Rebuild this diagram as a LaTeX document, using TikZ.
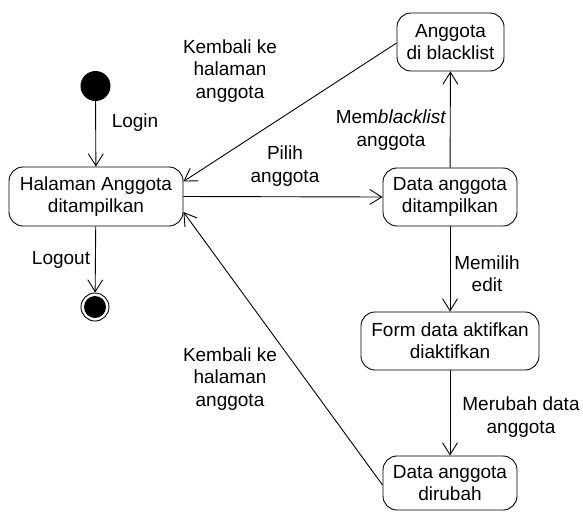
\documentclass[tikz,border=0pt]{standalone}
\usepackage{fontspec}
\setmainfont{Liberation Sans}
\usetikzlibrary{arrows.meta,calc}
\begin{document}
\begin{tikzpicture}[x=1pt,y=-1pt,
  every node/.style={font=\fontsize{19}{22.3}\selectfont, align=center, inner sep=0pt},
  state/.style={draw, rounded corners=14pt, line width=0.9pt},
  flow/.style={draw, line width=0.9pt, -{Straight Barb[length=12pt,width=15pt,line width=0.9pt]}},
  lbl/.style={}
]
\useasboundingbox (0,0) rectangle (583,512);

% initial and final states
\node[circle, fill=black, minimum size=30pt] (start) at (95.5,86) {};
\node[circle, draw, line width=0.9pt, minimum size=28pt] (stop) at (95,307) {};
\node[circle, fill=black, minimum size=22pt] (stopdot) at (95,307) {};

% activity states
\node[state, minimum width=174pt, minimum height=59pt] (hal) at (96,196.5) {Halaman Anggota\\ditampilkan};
\node[state, minimum width=107pt, minimum height=58pt] (bl) at (450.5,42) {Anggota\\di blacklist};
\node[state, minimum width=134pt, minimum height=58pt] (dt) at (450,197) {Data anggota\\ditampilkan};
\node[state, minimum width=178pt, minimum height=58pt] (form) at (450,341) {Form data aktifkan\\diaktifkan};
\node[state, minimum width=134pt, minimum height=54pt] (dr) at (450,483) {Data anggota\\dirubah};

% attachment points on the main page box
\coordinate (halup) at ($(hal.east)+(0,-15)$);
\coordinate (haldn) at ($(hal.east)+(0,15.5)$);
\coordinate (blout) at ($(bl.west)+(0,1)$);
\coordinate (drout) at ($(dr.west)+(0,2)$);

% transitions
\draw[flow] (start) -- (hal);
\draw[flow] (hal) -- (stop);
\draw[flow] (hal.east) -- (dt.west);
\draw[flow] (dt) -- (bl);
\draw[flow] (blout) -- (halup);
\draw[flow] (dt) -- (form);
\draw[flow] (form) -- (dr);
\draw[flow] (drout) -- (haldn);

% transition labels
\node[lbl] (tlogin) at (135,123) {Login};
\node[lbl] (tlogout) at (61,260) {Logout};
\node[lbl] (tback1) at (230,71) {Kembali ke\\halaman\\anggota};
\node[lbl] (tpilih) at (285,166) {Pilih\\anggota};
\node[lbl] (tblack) at (391,130) {Mem\textit{blacklist}\\anggota};
\node[lbl] (tedit) at (487,274) {Memilih\\edit};
\node[lbl] (tubah) at (521,417) {Merubah data\\anggota};
\node[lbl] (tback2) at (230,379) {Kembali ke\\halaman\\anggota};
\end{tikzpicture}
\end{document}
